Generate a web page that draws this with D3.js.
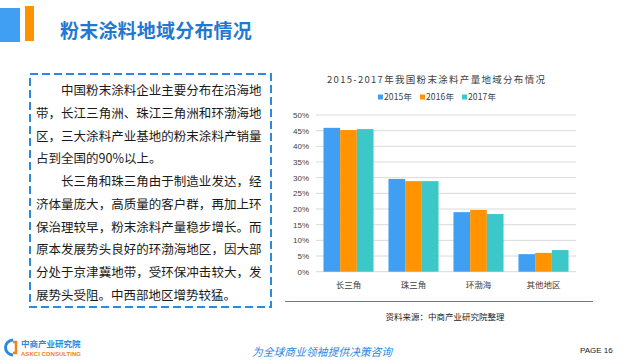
<!DOCTYPE html>
<html><head><meta charset="utf-8">
<script src="https://cdn.jsdelivr.net/npm/d3@7/dist/d3.min.js"></script>
<style>
html,body{margin:0;padding:0;background:#fff;}
svg{display:block;font-family:"Noto Sans CJK SC","Microsoft YaHei",sans-serif;}
</style></head>
<body><svg id="c" width="625" height="360"></svg>
<script>
const categories = ["长三角","珠三角","环渤海","其他地区"];
const seriesNames = ["2015年","2016年","2017年"];
const values2015 = [45.9, 29.6, 19.0, 5.6];
const values2016 = [45.2, 28.9, 19.7, 6.0];
const values2017 = [45.5, 28.9, 18.4, 6.9];
const yTicks = [0,5,10,15,20,25,30,35,40,45,50];
const colors = ["#409ef3","#ff9400","#3cc8c8"];
const paragraphLines = [
  "　　中国粉末涂料企业主要分布在沿海地",
  "带，长江三角洲、珠江三角洲和环渤海地",
  "区，三大涂料产业基地的粉末涂料产销量",
  "占到全国的90%以上。",
  "　　长三角和珠三角由于制造业发达，经",
  "济体量庞大，高质量的客户群，再加上环",
  "保治理较早，粉末涂料产量稳步增长。而",
  "原本发展势头良好的环渤海地区，因大部",
  "分处于京津冀地带，受环保冲击较大，发",
  "展势头受阻。中西部地区增势较猛。"
];

const svg = d3.select("#c");
const series = [values2015, values2016, values2017];

// header
svg.append("rect").attr("x",0).attr("y",8).attr("width",20).attr("height",34).attr("fill","#409ef3");
svg.append("rect").attr("x",25).attr("y",6).attr("width",9).attr("height",35).attr("fill","#ff9400");
svg.append("text").attr("x",60).attr("y",38).attr("font-size",19).attr("font-weight","bold")
  .attr("fill","#1f78d1").attr("letter-spacing","0.2").text("粉末涂料地域分布情况");

// text box
svg.append("rect").attr("x",30).attr("y",74).attr("width",241).attr("height",233)
  .attr("fill","none").attr("stroke","#2b8ae0").attr("stroke-width",2).attr("stroke-dasharray","8,4");
const tg = svg.append("g");
paragraphLines.forEach((t,i)=>{
  const tx = tg.append("text").attr("x",36).attr("y",95.3+i*22.7).attr("font-size",12.5)
    .attr("fill","#1a1a1a");
  if (t.length>=18) tx.attr("textLength",225.5).attr("lengthAdjust","spacing");
  tx.text(t);
});

// chart
const x0 = d3.scaleBand().domain(categories).range([316,576]).paddingInner(0.23).paddingOuter(0.115);
const x1 = d3.scaleBand().domain(seriesNames).range([0,x0.bandwidth()]);
const y = d3.scaleLinear().domain([0,50]).range([271.7,115]);

const grid = svg.append("g");
yTicks.forEach(v=>{
  grid.append("line").attr("x1",316).attr("x2",576).attr("y1",y(v)).attr("y2",y(v))
    .attr("stroke","#d9d9d9").attr("stroke-width",1);
  grid.append("text").attr("x",309).attr("y",y(v)+3).attr("text-anchor","end")
    .attr("font-size",8).attr("fill","#404040").attr("font-family","Arial, Liberation Sans, sans-serif").text(v+"%");
});

categories.forEach((c,ci)=>{
  series.forEach((s,si)=>{
    svg.append("rect").attr("x",x0(c)+x1(seriesNames[si])).attr("width",x1.bandwidth())
      .attr("y",y(s[ci])).attr("height",y(0)-y(s[ci])).attr("fill",colors[si]);
  });
  svg.append("text").attr("x",x0(c)+x0.bandwidth()/2).attr("y",288).attr("text-anchor","middle")
    .attr("font-size",8.5).attr("fill","#404040").text(c);
});

// chart title
svg.append("text").attr("x",327).attr("y",82.5).attr("font-size",9.5)
  .attr("fill","#404040").attr("textLength",218).attr("lengthAdjust","spacing")
  .text("2015-2017年我国粉末涂料产量地域分布情况");
// legend
const lx = [378,420,462];
seriesNames.forEach((n,i)=>{
  svg.append("rect").attr("x",lx[i]).attr("y",94.5).attr("width",5).attr("height",5).attr("fill",colors[i]);
  svg.append("text").attr("x",lx[i]+6).attr("y",100).attr("font-size",8.5).attr("fill","#404040")
    .attr("textLength",28).attr("lengthAdjust","spacing").text(n);
});

// bottom rule and source
svg.append("line").attr("x1",285).attr("x2",593).attr("y1",301.5).attr("y2",301.5)
  .attr("stroke","#4f7fbf").attr("stroke-width",1.2);
svg.append("text").attr("x",445).attr("y",320).attr("text-anchor","middle").attr("font-size",8.5)
  .attr("fill","#222").text("资料来源：中商产业研究院整理");

// footer
const logo = svg.append("g");
logo.append("path").attr("d","M13,340 A7.5,7.5 0 1,0 13,355").attr("fill","none").attr("stroke","#2b8ae0").attr("stroke-width",3);
logo.append("path").attr("d","M13,342 L16,342 L16,353 L13,353").attr("fill","none").attr("stroke","#f08020").attr("stroke-width",2.5);
logo.append("text").attr("x",21).attr("y",347).attr("font-size",8.5).attr("font-weight","bold").attr("fill","#2b8ae0").text("中商产业研究院");
logo.append("text").attr("x",21).attr("y",356).attr("font-size",6).attr("font-weight","bold").attr("fill","#f08020")
  .attr("font-family","Arial, Liberation Sans, sans-serif").attr("textLength",60).text("ASKCI CONSULTING");
svg.append("text").attr("transform","translate(322,356) skewX(-15)").attr("text-anchor","middle").attr("font-size",11)
  .attr("fill","#2b8ae0").attr("textLength",140).attr("lengthAdjust","spacingAndGlyphs").text("为全球商业领袖提供决策咨询");
svg.append("text").attr("x",580).attr("y",353).attr("font-size",8).attr("fill","#222")
  .attr("font-family","Arial, Liberation Sans, sans-serif").text("PAGE  16");
</script></body></html>
